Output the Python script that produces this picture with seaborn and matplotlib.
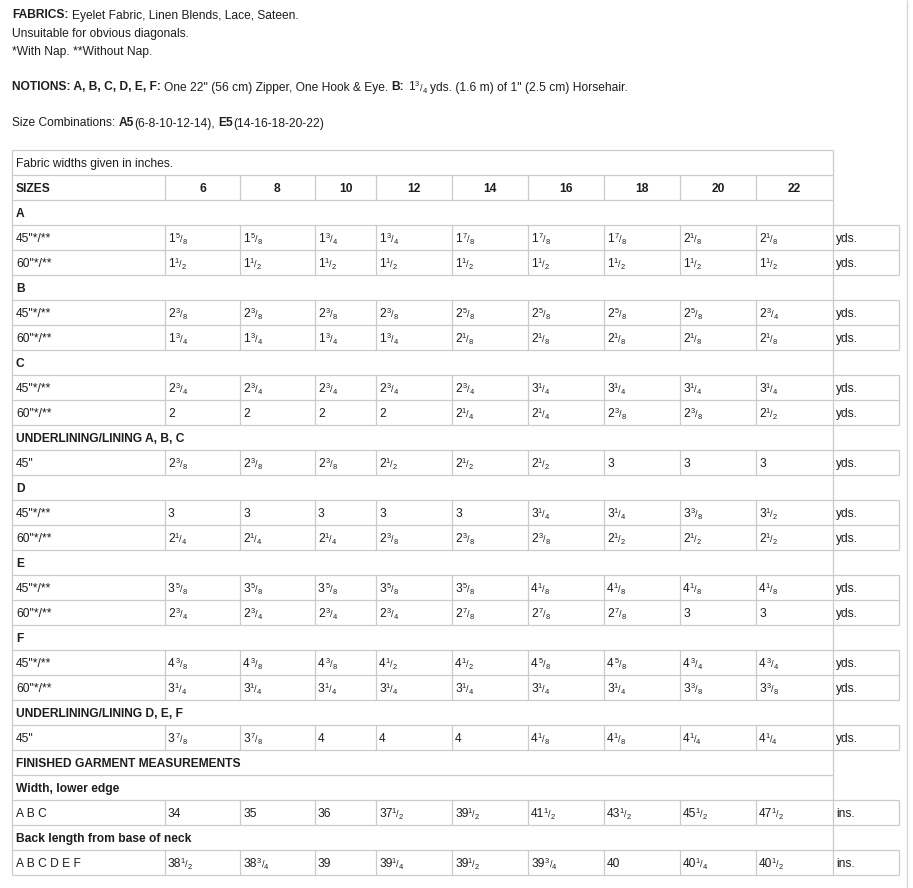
import matplotlib
matplotlib.use("Agg")
import matplotlib.pyplot as plt
import seaborn as sns

# Size columns and yardage values (whole + fraction written as "1 5/8")
sizes = [6, 8, 10, 12, 14, 16, 18, 20, 22]

a_45 = ["1 5/8", "1 5/8", "1 3/4", "1 3/4", "1 7/8", "1 7/8", "1 7/8", "2 1/8", "2 1/8"]
a_60 = ["1 1/2", "1 1/2", "1 1/2", "1 1/2", "1 1/2", "1 1/2", "1 1/2", "1 1/2", "1 1/2"]
b_45 = ["2 3/8", "2 3/8", "2 3/8", "2 3/8", "2 5/8", "2 5/8", "2 5/8", "2 5/8", "2 3/4"]
b_60 = ["1 3/4", "1 3/4", "1 3/4", "1 3/4", "2 1/8", "2 1/8", "2 1/8", "2 1/8", "2 1/8"]
c_45 = ["2 3/4", "2 3/4", "2 3/4", "2 3/4", "2 3/4", "3 1/4", "3 1/4", "3 1/4", "3 1/4"]
c_60 = ["2", "2", "2", "2", "2 1/4", "2 1/4", "2 3/8", "2 3/8", "2 1/2"]
lin_abc = ["2 3/8", "2 3/8", "2 3/8", "2 1/2", "2 1/2", "2 1/2", "3", "3", "3"]
d_45 = ["3", "3", "3", "3", "3", "3 1/4", "3 1/4", "3 3/8", "3 1/2"]
d_60 = ["2 1/4", "2 1/4", "2 1/4", "2 3/8", "2 3/8", "2 3/8", "2 1/2", "2 1/2", "2 1/2"]
e_45 = ["3 5/8", "3 5/8", "3 5/8", "3 5/8", "3 5/8", "4 1/8", "4 1/8", "4 1/8", "4 1/8"]
e_60 = ["2 3/4", "2 3/4", "2 3/4", "2 3/4", "2 7/8", "2 7/8", "2 7/8", "3", "3"]
f_45 = ["4 3/8", "4 3/8", "4 3/8", "4 1/2", "4 1/2", "4 5/8", "4 5/8", "4 3/4", "4 3/4"]
f_60 = ["3 1/4", "3 1/4", "3 1/4", "3 1/4", "3 1/4", "3 1/4", "3 1/4", "3 3/8", "3 3/8"]
lin_def = ["3 7/8", "3 7/8", "4", "4", "4", "4 1/8", "4 1/8", "4 1/4", "4 1/4"]
width_abc = ["34", "35", "36", "37 1/2", "39 1/2", "41 1/2", "43 1/2", "45 1/2", "47 1/2"]
back_len = ["38 1/2", "38 3/4", "39", "39 1/4", "39 1/2", "39 3/4", "40", "40 1/4", "40 1/2"]

W45 = '45"*/**'
W60 = '60"*/**'

rows = [
    ("title", "Fabric widths given in inches."),
    ("header", "SIZES"),
    ("section", "A"),
    ("data", W45, a_45, "yds."),
    ("data", W60, a_60, "yds."),
    ("section", "B"),
    ("data", W45, b_45, "yds."),
    ("data", W60, b_60, "yds."),
    ("section", "C"),
    ("data", W45, c_45, "yds."),
    ("data", W60, c_60, "yds."),
    ("section", "UNDERLINING/LINING A, B, C"),
    ("data", '45"', lin_abc, "yds."),
    ("section", "D"),
    ("data", W45, d_45, "yds."),
    ("data", W60, d_60, "yds."),
    ("section", "E"),
    ("data", W45, e_45, "yds."),
    ("data", W60, e_60, "yds."),
    ("section", "F"),
    ("data", W45, f_45, "yds."),
    ("data", W60, f_60, "yds."),
    ("section", "UNDERLINING/LINING D, E, F"),
    ("data", '45"', lin_def, "yds."),
    ("section", "FINISHED GARMENT MEASUREMENTS"),
    ("section", "Width, lower edge"),
    ("data", "A B C", width_abc, "ins."),
    ("section", "Back length from base of neck"),
    ("data", "A B C D E F", back_len, "ins."),
]

sns.set_theme(style="white")
plt.rcParams["font.family"] = ["Liberation Sans", "DejaVu Sans"]

INK = "#1e1e1e"
GRID = "#cbcbcb"
FS = 8.65
SMALL = 5.4
SLASH = 6.6

fig = plt.figure(figsize=(9.13, 8.88), dpi=100)
ax = fig.add_axes([0, 0, 1, 1])
ax.set_xlim(0, 913)
ax.set_ylim(888, 0)
ax.axis("off")


def put(x, y, s, bold=False, size=FS, ha="left"):
    return ax.text(x, y, s, fontsize=size, fontweight="bold" if bold else "normal",
                   va="baseline", ha=ha, color=INK)


def after(prev, y, s, dx=0, dy=0, size=FS, bold=False):
    return ax.annotate(s, xy=(1, y), xycoords=(prev, "data"), xytext=(dx, dy),
                       textcoords="offset pixels", fontsize=size,
                       fontweight="bold" if bold else "normal",
                       va="baseline", ha="left", color=INK)


def value(x, y, s, prev=None, gap=0):
    parts = s.split()
    if prev is None:
        t = put(x, y, parts[0])
    else:
        t = after(prev, y, parts[0], dx=gap)
    if len(parts) == 2:
        num, den = parts[1].split("/")
        # the "1" glyph has a wide left bearing, pull it in a little
        n = after(t, y, num, dx=-0.6 if num == "1" else 0.8, dy=4, size=SMALL)
        sl = after(n, y, "/", dx=0.3, dy=-0.5, size=SLASH)
        t = after(sl, y, den, dx=0.2, dy=-2.2, size=SMALL)
    return t


def rich(x, y, segs):
    prev = None
    for text, style, gap in segs:
        if style == "f":
            prev = value(x, y, text, prev, gap)
        elif prev is None:
            prev = put(x, y, text, bold=(style == "b"))
        else:
            prev = after(prev, y, text, dx=gap, bold=(style == "b"))


# Notes above the table
rich(12, 18.5, [("FABRICS:", "b", 0), ("Eyelet Fabric, Linen Blends, Lace, Sateen.", "n", 3.3)])
put(12, 36.5, "Unsuitable for obvious diagonals.")
put(12, 54.5, "*With Nap. **Without Nap.")
rich(12, 90.5, [("NOTIONS: A, B, C, D, E, F:", "b", 0),
                ('One 22" (56 cm) Zipper, One Hook & Eye.', "n", 3.3),
                ("B:", "b", 3.3),
                ("1 3/4", "f", 3.3),
                ('yds. (1.6 m) of 1" (2.5 cm) Horsehair.', "n", 3.3)])
rich(12, 126.5, [("Size Combinations:", "n", 0), ("A5", "b", 3.3),
                 ("(6-8-10-12-14),", "n", 0.3), ("E5", "b", 3.3),
                 ("(14-16-18-20-22)", "n", 0.3)])

# Table geometry
edges = [12, 165, 240, 315, 376, 452, 528, 604, 680, 756, 833, 899]
top = 150
rh = 25
n = len(rows)
bottom = top + n * rh

# horizontal rules
for i in range(n + 1):
    y = top + i * rh
    above = rows[i - 1][0] if i > 0 else None
    below = rows[i][0] if i < n else None
    right = edges[-1] if "data" in (above, below) else edges[-2]
    ax.hlines(y, edges[0], right, color=GRID, lw=0.9)

# vertical rules
ax.vlines([edges[0], edges[-2]], top, bottom, color=GRID, lw=0.9)
for i, r in enumerate(rows):
    y0 = top + i * rh
    if r[0] == "header":
        ax.vlines(edges[1:-2], y0, y0 + rh, color=GRID, lw=0.9)
    elif r[0] == "data":
        ax.vlines(edges[1:-2] + [edges[-1]], y0, y0 + rh, color=GRID, lw=0.9)

# page edge on the right
ax.vlines(907, 0, 888, color="#d4d4d4", lw=0.9)

# cell text
for i, r in enumerate(rows):
    yb = top + i * rh + 16.8
    kind = r[0]
    if kind == "title":
        put(edges[0] + 4, yb, r[1])
    elif kind == "header":
        put(edges[0] + 4, yb, r[1], bold=True)
        for j, s in enumerate(sizes):
            put((edges[j + 1] + edges[j + 2]) / 2, yb, str(s), bold=True, ha="center")
    elif kind == "section":
        put(edges[0] + 4, yb, r[1], bold=True)
    else:
        put(edges[0] + 4, yb, r[1])
        for j, v in enumerate(r[2]):
            value(edges[j + 1] + 3, yb, v)
        put(edges[-2] + 3, yb, r[3])

fig.savefig("out.png", dpi=100, facecolor="white")
